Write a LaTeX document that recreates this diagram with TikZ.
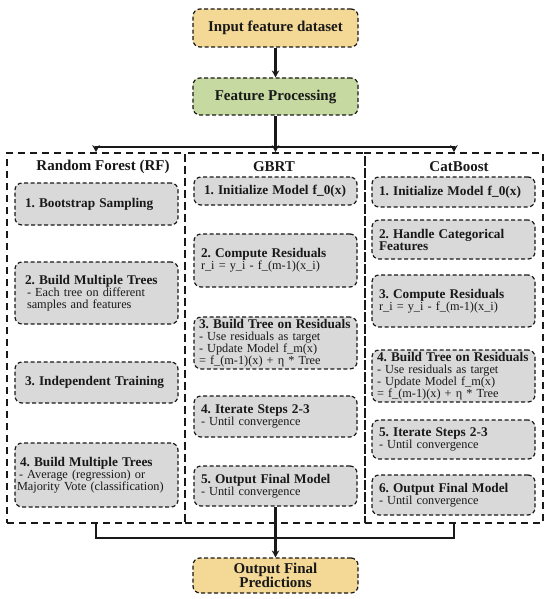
\documentclass[tikz,border=0pt]{standalone}
\usepackage{fontspec}
\setmainfont{Liberation Serif}
\usetikzlibrary{arrows.meta}
\definecolor{ink}{RGB}{25,25,25}
\definecolor{inyellow}{RGB}{244,216,150}
\definecolor{fpgreen}{RGB}{197,217,160}
\definecolor{stepgrey}{RGB}{217,217,217}
\newcommand{\sttl}[1]{{\fontsize{13.3}{12.5}\selectfont\bfseries #1}}
\newcommand{\nohyphs}{\hyphenpenalty=10000\relax\exhyphenpenalty=10000\relax}
\tikzset{
  topbox/.style={draw=ink, line width=1.2pt, dash pattern=on 4pt off 2.5pt, rounded corners=7pt,
    minimum width=165, text=ink, font=\fontsize{15}{13.5}\selectfont\bfseries\frenchspacing, align=center, inner sep=2pt},
  colbox/.style={draw=ink, line width=1.8pt, dash pattern=on 7pt off 5pt, minimum width=178, minimum height=370, inner sep=0pt},
  coltitle/.style={text=ink, font=\fontsize{15}{15}\selectfont\bfseries, inner sep=0pt},
  stepbox/.style={draw=ink, fill=stepgrey, line width=1.2pt, dash pattern=on 4pt off 2.5pt, rounded corners=7pt,
    minimum width=163, text width=149, inner xsep=7pt, inner ysep=2pt, align=left, text=ink,
    font=\fontsize{12.3}{12}\selectfont\frenchspacing\nohyphs},
  conn/.style={draw=ink, line width=2.2pt},
  arr/.style={conn, -{Stealth[length=7pt,width=7.5pt]}},
}
\begin{document}
\begin{tikzpicture}[x=1pt,y=-1pt]
\useasboundingbox (0,0) rectangle (550,599);
% top
\node[topbox, fill=inyellow, minimum height=38] (inp) at (275.5,28) {Input feature dataset};
\node[topbox, fill=fpgreen, minimum height=37] (fp) at (275.5,96.5) {Feature Processing};
% columns
\node[colbox] (rf) at (96,338) {};
\node[colbox, minimum width=180] (gb) at (275,338) {};
\node[colbox] (cb) at (454,338) {};
\node[coltitle] (rft) at (103,167) {Random Forest (RF)};
\node[coltitle] (gbt) at (274,167) {GBRT};
\node[coltitle] (cbt) at (459,167) {CatBoost};
% RF steps
\node[stepbox, minimum height=42, inner xsep=10pt, text width=143] (rf1) at (96.5,204) {\sttl{1. Bootstrap Sampling}};
\node[stepbox, minimum height=62, inner xsep=10pt, text width=143] (rf2) at (96.5,293) {\sttl{2. Build Multiple Trees}\\\hspace*{2pt}- Each tree on different\\\hspace*{2pt}samples and features};
\node[stepbox, minimum height=41, inner xsep=10pt, text width=143] (rf3) at (96.5,382.5) {\sttl{3. Independent Training}};
\node[stepbox, minimum height=64, inner xsep=2pt, text width=159] (rf4) at (96.5,475) {\sttl{\hspace*{3pt}4. Build Multiple Trees}\\\hspace*{2pt}- Average (regression) or\\Majority Vote (classification)};
% GBRT steps
\node[stepbox, minimum height=28, inner xsep=10pt, text width=143] (g1) at (275.5,191) {\sttl{1. Initialize Model f\_0(x)}};
\node[stepbox, minimum height=53] (g2) at (275.5,260.5) {\sttl{2. Compute Residuals}\\r\_i = y\_i - f\_(m-1)(x\_i)};
\node[stepbox, minimum height=50, inner xsep=5pt, text width=153] (g3) at (275.5,343) {\sttl{3. Build Tree on Residuals}\\- Use residuals as target\\- Update Model f\_m(x)\\= f\_(m-1)(x) + η * Tree};
\node[stepbox, minimum height=41] (g4) at (275.5,416.5) {\sttl{4. Iterate Steps 2-3}\\- Until convergence};
\node[stepbox, minimum height=40] (g5) at (275.5,486) {\sttl{5. Output Final Model}\\- Until convergence};
% CatBoost steps
\node[stepbox, minimum height=30] (c1) at (453.5,192) {\sttl{1. Initialize Model f\_0(x)}};
\node[stepbox, minimum height=39] (c2) at (453.5,239.5) {\sttl{2. Handle Categorical\\Features}};
\node[stepbox, minimum height=52] (c3) at (453.5,301) {\sttl{3. Compute Residuals}\\r\_i = y\_i - f\_(m-1)(x\_i)};
\node[stepbox, minimum height=52, inner xsep=5pt, text width=153] (c4) at (453.5,376) {\sttl{4. Build Tree on Residuals}\\- Use residuals as target\\- Update Model f\_m(x)\\= f\_(m-1)(x) + η * Tree};
\node[stepbox, minimum height=39] (c5) at (453.5,439.5) {\sttl{5. Iterate Steps 2-3}\\- Until convergence};
\node[stepbox, minimum height=40] (c6) at (453.5,495) {\sttl{6. Output Final Model}\\- Until convergence};
% output
\node[topbox, fill=inyellow, minimum height=35] (out) at (275.5,575.5) {Output Final\\Predictions};
% connectors
\coordinate (j) at (275.5,147);
\coordinate (k) at (275.5,538);
\draw[arr] (inp.south) -- (fp.south |- fp.north);
\draw[arr] (fp.south) -- (gb.north -| fp.south);
\draw[arr] (j) -| (rf.north);
\draw[arr] (j) -| (cb.north);
\draw[conn] (rf.south) |- (k) -| (cb.south);
\draw[arr] (g5.south) -- (out.north);
\end{tikzpicture}
\end{document}
